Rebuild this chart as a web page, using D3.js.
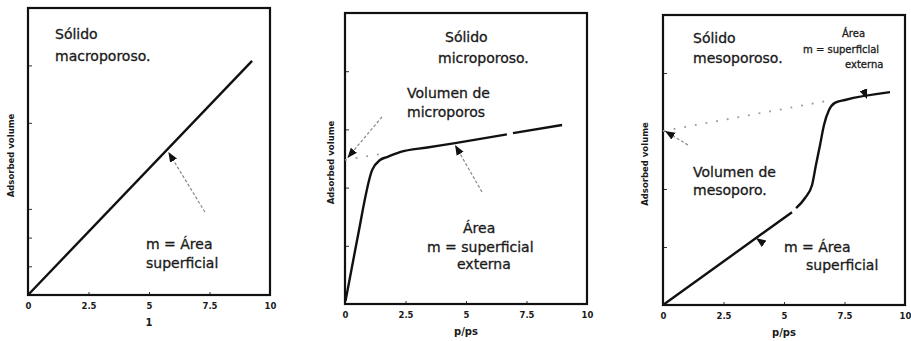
<!DOCTYPE html>
<meta charset="utf-8">
<script src="https://d3js.org/d3.v7.min.js"></script>
<style>
  body { margin: 0; background: #fff; }
  svg text { font-family: "DejaVu Sans", Verdana, sans-serif; fill: #1a1a1a; }
</style>
<body>
<div id="chart"></div>
</body>
<script>
// tick values and labels (same for all three panels)
const xTicks = [0, 2.5, 5, 7.5, 10];
const xTickLabels = ["0", "2.5", "5", "7.5", "10"];
const yTicksMacro = [1, 2, 3, 6, 8];
const yTicksOther = [2, 4, 6, 8];
const xLabels = ["1", "p/ps", "p/ps"];
const yLabel = "Adsorbed volume";

// macroporous: straight line
const macroX = [0, 9.26];
const macroY = [0, 8.16];

// microporous: steep rise then slow linear part (null = gap in the scan)
const microX = [0.02, 0.5, 1.12, 1.45, 1.74, 2.27, 3.4, 4.55, 6.69, null, 6.94, 8.97];
const microY = [0.1, 2.2, 4.6, 4.95, 5.05, 5.22, 5.38, 5.53, 5.83, null, 5.87, 6.15];
const microExtX = [0, 1.6];
const microExtY = [4.95, 5.17];

// mesoporous: linear, capillary step, plateau
const mesoX = [0, 5.33, null, 5.5, 5.87, 6.16, 6.32, 6.49, 6.65, 6.86, 7.1, 7.52, 9.38];
const mesoY = [0, 3.2, null, 3.34, 3.69, 4.14, 4.83, 5.52, 6.2, 6.72, 6.97, 7.07, 7.34];
const mesoExtX = [0, 7.0];
const mesoExtY = [6.0, 7.07];

const svg = d3.select("#chart").append("svg")
    .attr("width", 911)
    .attr("height", 341);

svg.append("defs").append("marker")
    .attr("id", "head")
    .attr("viewBox", "0 0 10 10")
    .attr("refX", 10)
    .attr("refY", 5)
    .attr("markerWidth", 10)
    .attr("markerHeight", 10)
    .attr("markerUnits", "userSpaceOnUse")
    .attr("orient", "auto")
    .append("path")
    .attr("d", "M0,1 L10,5 L0,9 Z")
    .attr("fill", "#111");

const zip = (xs, ys) => xs.map((x, i) => ({x: x, y: ys[i]}));

const panels = [
    {left: 28, top: 8, right: 270, bottom: 295, yTicks: yTicksMacro, yLabelX: 14,
     series: [zip(macroX, macroY)], ext: null,
     arrows: [{from: [7.31, 2.89], to: [5.8, 4.98], shaft: true}],
     texts: [
        {t: "Sólido", x: 55, y: 39}, {t: "macroporoso.", x: 55, y: 61},
        {t: "m = Área", x: 146, y: 249}, {t: "superficial", x: 146, y: 268}
     ]},
    {left: 345, top: 13, right: 587, bottom: 304, yTicks: yTicksOther, yLabelX: 334,
     series: [zip(microX, microY)], ext: zip(microExtX, microExtY),
     arrows: [{from: [1.53, 6.43], to: [0.1, 5.02], shaft: true},
              {from: [5.66, 3.85], to: [4.55, 5.46], shaft: true}],
     texts: [
        {t: "Sólido", x: 445, y: 42}, {t: "microporoso.", x: 438, y: 63},
        {t: "Volumen de", x: 407, y: 98}, {t: "microporos", x: 407, y: 117},
        {t: "Área", x: 463, y: 233}, {t: "m = superficial", x: 427, y: 252},
        {t: "externa", x: 457, y: 269}
     ]},
    {left: 663, top: 15, right: 905, bottom: 305, yTicks: yTicksOther, yLabelX: 648,
     series: [zip(mesoX, mesoY)], ext: zip(mesoExtX, mesoExtY),
     arrows: [{from: [1.03, 5.52], to: [0.08, 6.0], shaft: true},
              {from: [4.42, 1.97], to: [3.84, 2.31], shaft: false},
              {from: [8.22, 7.55], to: [8.43, 7.1], shaft: false}],
     texts: [
        {t: "Sólido", x: 693, y: 43}, {t: "mesoporoso.", x: 693, y: 63},
        {t: "Área", x: 842, y: 37, s: 10}, {t: "m = superficial", x: 803, y: 53, s: 10},
        {t: "externa", x: 845, y: 68, s: 10},
        {t: "Volumen de", x: 693, y: 177}, {t: "mesoporo.", x: 693, y: 195},
        {t: "m = Área", x: 784, y: 252}, {t: "superficial", x: 806, y: 270}
     ]}
];

panels.forEach((p, pi) => {
    const x = d3.scaleLinear().domain([0, 10]).range([p.left, p.right]);
    const y = d3.scaleLinear().domain([0, 10]).range([p.bottom, p.top]);
    const g = svg.append("g");

    // x axis ticks (inward) and labels
    g.append("g")
        .attr("transform", `translate(0,${p.bottom})`)
        .call(d3.axisBottom(x).tickValues(xTicks).tickSize(-3).tickPadding(8)
            .tickFormat((d, i) => xTickLabels[i]))
        .call(a => a.select(".domain").remove())
        .call(a => a.selectAll("line").attr("stroke", "#333"))
        .call(a => a.selectAll("text").attr("font-size", 8.5).attr("font-weight", "bold")
            .attr("font-family", "DejaVu Sans").attr("fill", "#1a1a1a"));

    // y axis ticks (inward)
    g.append("g")
        .attr("transform", `translate(${p.left},0)`)
        .call(d3.axisLeft(y).tickValues(p.yTicks).tickSize(-4).tickFormat(""))
        .call(a => a.select(".domain").remove())
        .call(a => a.selectAll("line").attr("stroke", "#333"));

    // frame
    g.append("rect")
        .attr("x", p.left).attr("y", p.top)
        .attr("width", p.right - p.left).attr("height", p.bottom - p.top)
        .attr("fill", "none").attr("stroke", "#111").attr("stroke-width", 2.2);

    g.append("text")
        .attr("x", (p.left + p.right) / 2)
        .attr("y", p.bottom + 31)
        .attr("text-anchor", "middle")
        .attr("font-size", 10).attr("font-weight", "bold")
        .text(xLabels[pi]);

    g.append("text")
        .attr("transform", `translate(${p.yLabelX},${(p.top + p.bottom) / 2 + 4}) rotate(-90)`)
        .attr("text-anchor", "middle")
        .attr("font-size", 8.5).attr("font-weight", "bold")
        .text(yLabel);

    const line = d3.line()
        .defined(d => d.x !== null)
        .x(d => x(d.x)).y(d => y(d.y))
        .curve(d3.curveMonotoneX);

    if (p.ext) {
        g.append("path")
            .attr("d", d3.line().x(d => x(d.x)).y(d => y(d.y))(p.ext))
            .attr("fill", "none").attr("stroke", "#999")
            .attr("stroke-width", 1.8).attr("stroke-dasharray", "1.8,9");
    }

    p.series.forEach(s => {
        g.append("path")
            .attr("d", line(s))
            .attr("fill", "none").attr("stroke", "#111")
            .attr("stroke-width", 2.4);
    });

    p.arrows.forEach(a => {
        g.append("path")
            .attr("d", d3.line()([[x(a.from[0]), y(a.from[1])], [x(a.to[0]), y(a.to[1])]]))
            .attr("fill", "none")
            .attr("stroke", a.shaft ? "#888" : "none")
            .attr("stroke-width", 1.2)
            .attr("stroke-dasharray", "3,2")
            .attr("marker-end", "url(#head)");
    });

    p.texts.forEach(t => {
        g.append("text")
            .attr("x", t.x).attr("y", t.y)
            .attr("font-size", t.s || 14)
            .attr("stroke", "#1a1a1a")
            .attr("stroke-width", 0.3)
            .text(t.t);
    });
});
</script>
